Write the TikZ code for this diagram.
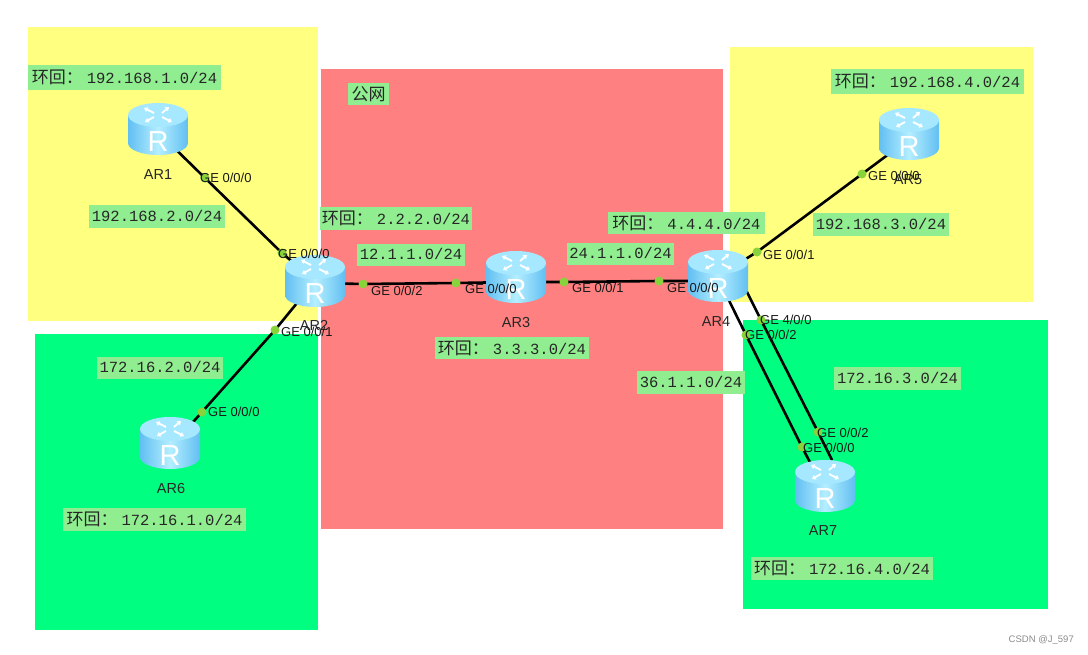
\documentclass[tikz,border=0pt]{standalone}
\usepackage{fontspec}
\setmainfont{Liberation Sans}
\newfontfamily\cjkf{Noto Sans CJK SC}
\newfontfamily\ipf{Liberation Mono}
\usetikzlibrary{arrows.meta}
\pgfdeclarelayer{zonelayer}
\pgfdeclarelayer{linklayer}
\pgfsetlayers{zonelayer,linklayer,main}
\definecolor{yel}{HTML}{FFFF80}
\definecolor{redz}{HTML}{FF8080}
\definecolor{grn}{HTML}{00FF80}
\definecolor{lab}{HTML}{90EE90}
\definecolor{dotc}{HTML}{88D23C}
\definecolor{rsideA}{HTML}{62BFF2}
\definecolor{rsideB}{HTML}{B4EEFF}
\definecolor{rtop}{HTML}{A6E8FF}
\tikzset{
 x=1pt,y=-1pt,
 zone/.style={draw=none},
 iplabel/.style={fill=lab,inner sep=0pt,text=black!85,font=\fontsize{15.5}{16}\ipf},
 portdot/.style={circle,fill=dotc,draw=none,minimum size=9pt,inner sep=0pt},
 portlabel/.style={anchor=west,inner sep=0pt,font=\fontsize{13}{15}\selectfont,text=black!90},
 rname/.style={inner sep=0pt,font=\fontsize{14.5}{15}\selectfont,text=black!85},
 link/.style={draw=black,line width=2.6pt},
 routerbox/.style={minimum width=60pt,minimum height=54pt,inner sep=0pt,draw=none},
 rarrow/.style={white,line width=1.8pt,-{Triangle[length=3.6pt,width=5pt]}},
}
\newcommand{\iplab}[6]{\path ({(#2+#4)/2},{(#3+#5)/2}) node[iplabel,minimum width={(#4-#2)*1pt},minimum height={(#5-#3)*1pt}] (#1) {\raisebox{1.5pt}{#6}};}
\newcommand{\hh}{{\cjkf\fontsize{17}{17}\selectfont 环回^^^^ff1a}\hspace{4pt}}
\newcommand{\routerat}[3]{%
 \node[routerbox] (#1) at (#2,#3) {};
 \begin{scope}[shift={(#2,#3)}]
  \shade[left color=rsideA,right color=rsideA,middle color=rsideB]
    (-30,-14) -- (-30,14) arc[start angle=180,end angle=0,x radius=30,y radius=12] -- (30,-14) -- cycle;
  \fill[rtop] (0,-14) ellipse[x radius=30,y radius=12];
  \draw[rarrow] (-4,-16) -- (-14,-21);
  \draw[rarrow] (4,-16) -- (11,-22);
  \draw[rarrow] (-4,-12) -- (-13,-7);
  \draw[rarrow] (4,-12) -- (14,-7);
  \node[inner sep=0pt,text=white,font=\fontsize{29}{30}\selectfont] at (0,13) {R};
 \end{scope}}
\begin{document}
\begin{tikzpicture}
\useasboundingbox (0,0) rectangle (1088,655);
\begin{pgfonlayer}{zonelayer}
\fill[white] (0,0) rectangle (1088,655);
\fill[yel,zone] (28,27) rectangle (318,321);
\fill[grn,zone] (35,334) rectangle (318,630);
\fill[redz,zone] (321,69) rectangle (723,529);
\fill[yel,zone] (730,47) rectangle (1033,302);
\fill[grn,zone] (743,320) rectangle (1048,609);
\end{pgfonlayer}
% link ends, hidden behind the routers
\coordinate (c1) at (158,132);
\coordinate (c2) at (315,281);
\coordinate (c2h) at (315,283);
\coordinate (c3h) at (516,282);
\coordinate (c4) at (718,276);
\coordinate (c4h) at (718,281);
\coordinate (c4a) at (737,272);
\coordinate (c4b) at (716,274);
\coordinate (c5) at (909,139);
\coordinate (c6) at (170,448);
\coordinate (e7a) at (832,460);
\coordinate (e7b) at (814,470);
% port dots
\node[portdot] (p12) at (205,178) {};
\node[portdot] (p21) at (282,253) {};
\node[portdot] (p23) at (363,284) {};
\node[portdot] (p32) at (456,283) {};
\node[portdot] (p34) at (564,282) {};
\node[portdot] (p43) at (659,281) {};
\node[portdot] (p45) at (757,252) {};
\node[portdot] (p54) at (862,174) {};
\node[portdot] (p47a) at (761,320) {};
\node[portdot] (p47b) at (746,335) {};
\node[portdot] (p74a) at (818,432) {};
\node[portdot] (p74b) at (802,447) {};
\node[portdot] (p26) at (275,330) {};
\node[portdot] (p62) at (202,412) {};
% links
\begin{pgfonlayer}{linklayer}
\draw[link] (c1) -- (p12.center) -- (p21.center) -- (c2);
\draw[link] (c2h) -- (p23.center) -- (p32.center) -- (c3h);
\draw[link] (c3h) -- (p34.center) -- (p43.center) -- (c4h);
\draw[link] (c4) -- (p45.center) -- (p54.center) -- (c5);
\draw[link] (c2) -- (p26.center) -- (p62.center) -- (c6);
\draw[link] (c4a) -- (p47a.center) -- (p74a.center) -- (e7a);
\draw[link] (c4b) -- (p47b.center) -- (p74b.center) -- (e7b);
\end{pgfonlayer}
% routers
\routerat{r1}{158}{129}
\routerat{r2}{315}{281}
\routerat{r3}{516}{277}
\routerat{r4}{718}{276}
\routerat{r5}{909}{134}
\routerat{r6}{170}{443}
\routerat{r7}{825}{486}
% router names
\node[rname] (n1) at (158,175) {AR1};
\node[rname] (n2) at (314,325) {AR2};
\node[rname] (n3) at (516,323) {AR3};
\node[rname] (n4) at (716,322) {AR4};
\node[rname] (n5) at (908,180) {AR5};
\node[rname] (n6) at (171,489) {AR6};
\node[rname] (n7) at (823,531) {AR7};
% port labels
\node[portlabel] (g1) at (200,178) {GE 0/0/0};
\node[portlabel] (g2) at (278,254) {GE 0/0/0};
\node[portlabel] (g3) at (371,291) {GE 0/0/2};
\node[portlabel] (g4) at (465,289) {GE 0/0/0};
\node[portlabel] (g5) at (572,288) {GE 0/0/1};
\node[portlabel] (g6) at (667,288) {GE 0/0/0};
\node[portlabel] (g7) at (763,255) {GE 0/0/1};
\node[portlabel] (g8) at (868,176) {GE 0/0/0};
\node[portlabel] (g9) at (760,320) {GE 4/0/0};
\node[portlabel] (g10) at (745,335) {GE 0/0/2};
\node[portlabel] (g11) at (817,433) {GE 0/0/2};
\node[portlabel] (g12) at (803,448) {GE 0/0/0};
\node[portlabel] (g13) at (281,332) {GE 0/0/1};
\node[portlabel] (g14) at (208,412) {GE 0/0/0};
% ip labels
\iplab{l1}{28}{65}{221}{90}{\hh 192.168.1.0/24}
\iplab{l2}{89}{205}{225}{228}{192.168.2.0/24}
\iplab{l3}{320}{207}{472}{230}{\hh 2.2.2.0/24}
\iplab{l4}{357}{244}{465}{266}{12.1.1.0/24}
\iplab{l5}{567}{243}{674}{265}{24.1.1.0/24}
\iplab{l6}{608}{212}{765}{234}{\hh 4.4.4.0/24}
\iplab{l7}{831}{69}{1024}{94}{\hh 192.168.4.0/24}
\iplab{l8}{813}{213}{949}{236}{192.168.3.0/24}
\iplab{l9}{834}{367}{961}{390}{172.16.3.0/24}
\iplab{l10}{637}{371}{745}{394}{36.1.1.0/24}
\iplab{l11}{435}{337}{589}{359}{\hh 3.3.3.0/24}
\iplab{l12}{97}{357}{223}{379}{172.16.2.0/24}
\iplab{l13}{63}{508}{246}{531}{\hh 172.16.1.0/24}
\iplab{l14}{751}{557}{933}{580}{\hh 172.16.4.0/24}
\iplab{l15}{348}{83}{389}{105}{{\cjkf\fontsize{17}{17}\selectfont 公网}}
\node[inner sep=0pt,anchor=east,text=black!45,font=\fontsize{9.5}{11}\selectfont] (wm) at (1074,640) {CSDN @J\_597};
\end{tikzpicture}
\end{document}
